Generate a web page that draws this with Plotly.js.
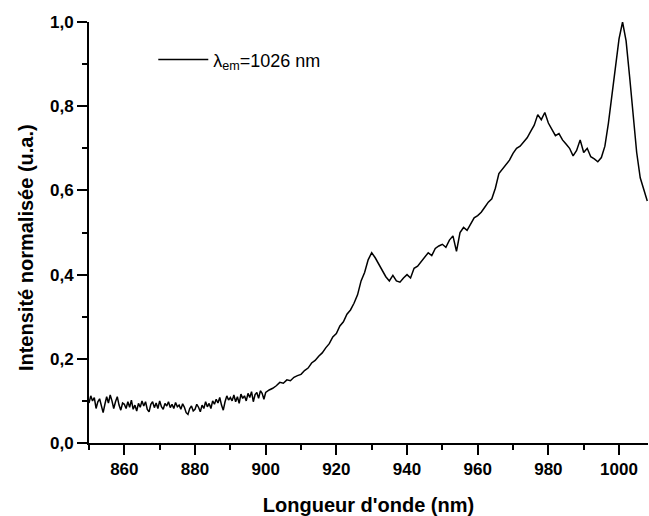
<!DOCTYPE html>
<html>
<head>
<meta charset="utf-8">
<script src="https://cdn.plot.ly/plotly-3.0.1.min.js"></script>
<style>
html,body{margin:0;padding:0;background:#fff;}
#chart{width:649px;height:516px;}
</style>
</head>
<body>
<div id="chart"></div>
<script>
// Wavelength (nm)
var wavelength = [
 850,850.5,851,851.5,852,852.5,853,853.5,854,854.5,
 855,855.5,856,856.5,857,857.5,858,858.5,859,859.5,
 860,860.5,861,861.5,862,862.5,863,863.5,864,864.5,
 865,865.5,866,866.5,867,867.5,868,868.5,869,869.5,
 870,870.5,871,871.5,872,872.5,873,873.5,874,874.5,
 875,875.5,876,876.5,877,877.5,878,878.5,879,879.5,
 880,880.5,881,881.5,882,882.5,883,883.5,884,884.5,
 885,885.5,886,886.5,887,887.5,888,888.5,889,889.5,
 890,890.5,891,891.5,892,892.5,893,893.5,894,894.5,
 895,895.5,896,896.5,897,897.5,898,898.5,899,899.5,
 900,901,902,903,904,905,906,907,908,909,
 910,911,912,913,914,915,916,917,918,919,
 920,921,922,923,924,925,926,927,928,929,
 930,931,932,933,934,935,936,937,938,939,
 940,941,942,943,944,945,946,947,948,949,
 950,951,952,953,954,955,956,957,958,959,
 960,961,962,963,964,965,966,967,968,969,
 970,971,972,973,974,975,976,977,978,979,
 980,981,982,983,984,985,986,987,988,989,
 990,991,992,993,994,995,996,997,998,999,
 1000,1001,1002,1003,1004,1005,1006,1007,1008
];
// Normalised intensity (a.u.)
var intensity = [
 0.095,0.112,0.100,0.108,0.082,0.098,0.105,0.090,0.072,0.092,
 0.110,0.095,0.114,0.100,0.082,0.098,0.110,0.090,0.078,0.095,
 0.092,0.082,0.098,0.085,0.102,0.080,0.090,0.076,0.094,0.085,
 0.100,0.088,0.098,0.080,0.074,0.092,0.098,0.084,0.095,0.082,
 0.100,0.086,0.080,0.094,0.088,0.098,0.084,0.092,0.082,0.096,
 0.086,0.090,0.080,0.093,0.085,0.072,0.068,0.082,0.088,0.076,
 0.080,0.092,0.085,0.074,0.090,0.082,0.098,0.086,0.094,0.082,
 0.100,0.092,0.104,0.095,0.108,0.090,0.078,0.098,0.112,0.102,
 0.108,0.100,0.114,0.098,0.110,0.094,0.116,0.106,0.112,0.100,
 0.118,0.108,0.122,0.098,0.115,0.120,0.106,0.124,0.118,0.104,
 0.120,0.126,0.130,0.136,0.144,0.142,0.150,0.148,0.156,0.160,
 0.163,0.172,0.178,0.190,0.196,0.206,0.214,0.226,0.236,0.252,
 0.260,0.278,0.288,0.306,0.316,0.332,0.352,0.385,0.405,0.435,
 0.452,0.440,0.425,0.410,0.395,0.385,0.398,0.385,0.382,0.392,
 0.400,0.392,0.415,0.420,0.430,0.440,0.452,0.445,0.462,0.468,
 0.472,0.465,0.482,0.492,0.455,0.500,0.512,0.505,0.522,0.535,
 0.540,0.548,0.560,0.572,0.580,0.605,0.640,0.650,0.660,0.672,
 0.688,0.700,0.705,0.715,0.725,0.740,0.755,0.780,0.768,0.785,
 0.760,0.745,0.730,0.735,0.720,0.710,0.700,0.682,0.695,0.720,
 0.690,0.700,0.680,0.675,0.668,0.678,0.705,0.760,0.830,0.900,
 0.960,1.000,0.955,0.870,0.770,0.690,0.630,0.600,0.575
];
var xTickVals = [860,880,900,920,940,960,980,1000];
var yTickVals = [0,0.2,0.4,0.6,0.8,1.0];

var FONT = 'Arial, "Liberation Sans", sans-serif';

var trace = {
  x: wavelength, y: intensity,
  type: 'scatter', mode: 'lines',
  line: {color: '#000', width: 1.5},
  name: 'λ<sub>em</sub>=1026 nm'
};

var layout = {
  width: 649, height: 516,
  margin: {l: 89, r: 1, t: 22, b: 73},
  paper_bgcolor: '#fff', plot_bgcolor: '#fff',
  separators: ',.',
  font: {family: FONT, color: '#000'},
  showlegend: true,
  legend: {x: 0.115, y: 0.91, xanchor: 'left', yanchor: 'middle',
           bgcolor: 'rgba(0,0,0,0)', font: {size: 18, family: FONT}, itemwidth: 50},
  xaxis: {
    range: [850, 1008.2], showgrid: false, zeroline: false,
    showline: true, linecolor: '#000', linewidth: 2,
    ticks: 'outside', ticklen: 10, tickwidth: 2, tickcolor: '#000',
    tickvals: xTickVals,
    tickfont: {size: 17, weight: 'bold', family: FONT},
    minor: {dtick: 10, tick0: 850, ticks: 'outside', ticklen: 5, tickwidth: 2, tickcolor: '#000'},
    title: {text: "Longueur d'onde (nm)", font: {size: 20, weight: 'bold', family: FONT}, standoff: 21}
  },
  yaxis: {
    range: [0, 1.0], showgrid: false, zeroline: false,
    showline: true, linecolor: '#000', linewidth: 2,
    ticks: 'outside', ticklen: 10, tickwidth: 2, tickcolor: '#000',
    tickvals: yTickVals, tickformat: '.1f',
    tickfont: {size: 17, weight: 'bold', family: FONT},
    minor: {dtick: 0.1, tick0: 0, ticks: 'outside', ticklen: 5, tickwidth: 2, tickcolor: '#000'}
  },
  annotations: [{
    text: 'Intensité normalisée (u.a.)', textangle: -90,
    xref: 'paper', yref: 'paper', x: -0.113, y: 0.465,
    xanchor: 'center', yanchor: 'middle', showarrow: false,
    font: {size: 20, weight: 'bold', family: FONT}
  }]
};

Plotly.newPlot('chart', [trace], layout, {displayModeBar: false, staticPlot: true});
</script>
</body>
</html>
